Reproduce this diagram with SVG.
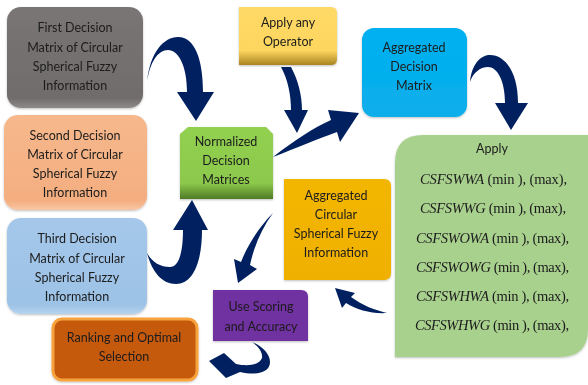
<svg xmlns="http://www.w3.org/2000/svg" width="588" height="385" viewBox="0 0 588 385">
<defs>
<linearGradient id="gGray" x1="0" y1="0" x2="0" y2="1"><stop offset="0" stop-color="#7a7575"/><stop offset="0.9" stop-color="#716c6c"/><stop offset="1" stop-color="#8e8a8a"/></linearGradient>
<linearGradient id="gSalmon" x1="0" y1="0" x2="0" y2="1"><stop offset="0" stop-color="#f6b88c"/><stop offset="0.9" stop-color="#f4ae80"/><stop offset="1" stop-color="#f8c6a4"/></linearGradient>
<linearGradient id="gBlue" x1="0" y1="0" x2="0" y2="1"><stop offset="0" stop-color="#a5c8ea"/><stop offset="0.9" stop-color="#9cc2e6"/><stop offset="1" stop-color="#b6d3ee"/></linearGradient>
<linearGradient id="gGreen" x1="0" y1="0" x2="0" y2="1"><stop offset="0" stop-color="#92d050"/><stop offset="0.78" stop-color="#8cc94c"/><stop offset="1" stop-color="#4f7a25"/></linearGradient>
<linearGradient id="gYellow" x1="0" y1="0" x2="0" y2="1"><stop offset="0" stop-color="#ffd966"/><stop offset="0.75" stop-color="#fdd660"/><stop offset="1" stop-color="#a98420"/></linearGradient>
<linearGradient id="gCyan" x1="0" y1="0" x2="0" y2="1"><stop offset="0" stop-color="#00b0f0"/><stop offset="1" stop-color="#0aaeea"/></linearGradient>
<linearGradient id="gGold" x1="0" y1="0" x2="0" y2="1"><stop offset="0" stop-color="#f2b600"/><stop offset="1" stop-color="#f0b000"/></linearGradient>
<filter id="sh" x="-10%" y="-10%" width="120%" height="120%"><feDropShadow dx="0" dy="1" stdDeviation="1" flood-color="#000" flood-opacity="0.25"/></filter>
</defs>
<style>
.t{font-family:Lato,"Open Sans","Liberation Sans",sans-serif;font-size:12.5px;fill:#1c1c1c;text-anchor:middle}
.f{font-family:"Liberation Serif","DejaVu Serif",serif;font-size:14.5px;fill:#1c1c1c}
.fi{font-style:italic}
.arr{fill:#002060}
</style>

<g id="node-first" filter="url(#sh)">
<rect x="7" y="7" width="136" height="101" rx="14" fill="url(#gGray)"/>
<text class="t" x="75" y="32">First Decision</text>
<text class="t" x="75" y="52">Matrix of Circular</text>
<text class="t" x="75" y="71">Spherical Fuzzy</text>
<text class="t" x="75" y="90">Information</text>
</g>

<g id="node-second" filter="url(#sh)">
<rect x="4" y="115" width="143" height="95" rx="14" fill="url(#gSalmon)"/>
<text class="t" x="75" y="140">Second Decision</text>
<text class="t" x="75" y="159">Matrix of Circular</text>
<text class="t" x="75" y="178">Spherical Fuzzy</text>
<text class="t" x="75" y="197">Information</text>
</g>

<g id="node-third" filter="url(#sh)">
<rect x="7" y="218" width="140" height="96" rx="14" fill="url(#gBlue)"/>
<text class="t" x="77" y="243">Third Decision</text>
<text class="t" x="77" y="263">Matrix of Circular</text>
<text class="t" x="77" y="282">Spherical Fuzzy</text>
<text class="t" x="77" y="301">Information</text>
</g>

<g id="node-ranking" filter="url(#sh)">
<rect x="53" y="319" width="144" height="61" rx="9" fill="#c55a11" stroke="#f7a33e" stroke-width="3"/>
<text class="t" x="124" y="342">Ranking and Optimal</text>
<text class="t" x="124" y="361">Selection</text>
</g>

<g id="node-normalized" filter="url(#sh)">
<path d="M188,127 L266,127 L273,134 L273,199 L180,199 L180,134 Z" fill="url(#gGreen)"/>
<text class="t" x="226" y="146">Normalized</text>
<text class="t" x="226" y="165">Decision</text>
<text class="t" x="226" y="184">Matrices</text>
</g>

<g id="node-operator" filter="url(#sh)">
<path d="M239,7 L331,7 Q337,7 337,13 L337,59 Q337,65 331,65 L239,65 Z" fill="url(#gYellow)"/>
<text class="t" x="288" y="27">Apply any</text>
<text class="t" x="288" y="46">Operator</text>
</g>

<g id="node-aggmatrix" filter="url(#sh)">
<rect x="362" y="28" width="105" height="89" rx="12" fill="url(#gCyan)"/>
<text class="t" x="414" y="52">Aggregated</text>
<text class="t" x="414" y="71">Decision</text>
<text class="t" x="414" y="90">Matrix</text>
</g>

<g id="node-apply" filter="url(#sh)">
<path d="M423,135 L588,135 L588,329 Q588,357 560,357 L395,357 L395,163 Q395,135 423,135 Z" fill="#a9d18e"/>
<text class="t" x="492" y="153">Apply</text>
<text class="f" x="420" y="184" textLength="147" lengthAdjust="spacing"><tspan class="fi">CSFSWWA</tspan> (min ), (max),</text>
<text class="f" x="420" y="213" textLength="146" lengthAdjust="spacing"><tspan class="fi">CSFSWWG</tspan> (min ), (max),</text>
<text class="f" x="416" y="243" textLength="153" lengthAdjust="spacing"><tspan class="fi">CSFSWOWA</tspan> (min ), (max),</text>
<text class="f" x="416" y="272" textLength="153" lengthAdjust="spacing"><tspan class="fi">CSFSWOWG</tspan> (min ), (max),</text>
<text class="f" x="416" y="301" textLength="153" lengthAdjust="spacing"><tspan class="fi">CSFSWHWA</tspan> (min ), (max),</text>
<text class="f" x="415" y="330" textLength="154" lengthAdjust="spacing"><tspan class="fi">CSFSWHWG</tspan> (min ), (max),</text>
</g>

<g id="node-aggcircular" filter="url(#sh)">
<path d="M284,179 L384,179 Q391,179 391,186 L391,273 Q391,280 384,280 L284,280 Z" fill="url(#gGold)"/>
<text class="t" x="336" y="200">Aggregated</text>
<text class="t" x="336" y="219">Circular</text>
<text class="t" x="336" y="238">Spherical Fuzzy</text>
<text class="t" x="336" y="257">Information</text>
</g>

<g id="node-scoring" filter="url(#sh)">
<path d="M213,290 L301,290 Q308,290 308,297 L308,341 L213,341 Z" fill="#7030a0"/>
<text class="t" x="261" y="311">Use Scoring</text>
<text class="t" x="261" y="331">and Accuracy</text>
</g>

<g id="connectors">
<path class="arr" d="M147,82 C150,52 164,37 178,37 C195,37 203,60 203,92 L214,92 L196,121 L177,92 L187,92 C187,65 178,50 168,50 C158,50 150,62 147,82 Z"/>
<path class="arr" d="M281,67 L291,67 C298,80 302,95 302,110 L308,110 L297,133 L284,110 L291,110 C291,95 288,80 281,67 Z"/>
<path class="arr" d="M273,157 C295,140 313,128 331,120 L328,110 L359,113 L340,142 L337,132 C318,139 296,148 273,157 Z"/>
<path class="arr" d="M470,82 C472,62 482,55 490,55 C505,55 518,72 518,103 L528,103 L511,130 L495,103 L505,103 C505,80 497,67 488,67 C480,67 473,73 470,82 Z"/>
<path class="arr" d="M147,253 C152,272 162,284 176,284 C193,284 202,262 202,230 L208,230 L192,200 L173,230 L183,230 C183,255 178,267 170,267 C160,267 152,262 147,253 Z"/>
<path class="arr" d="M273,213 C262,228 254,246 250,265 L257,269 L238,283 L234,259 L241,262 C248,244 260,226 273,213 Z"/>
<path class="arr" d="M387,313 C372,314 357,310 346,303 L342,308 L335,288 L355,293 L351,297 C362,305 374,310 387,313 Z"/>
<path class="arr" d="M252,342 C262,346 270,354 270,362 C270,372 258,376 240,372 L226,378 L209,361 L224,353 L236,364 C250,367 260,364 262,358 C263,352 258,346 252,342 Z"/>
</g>
</svg>
